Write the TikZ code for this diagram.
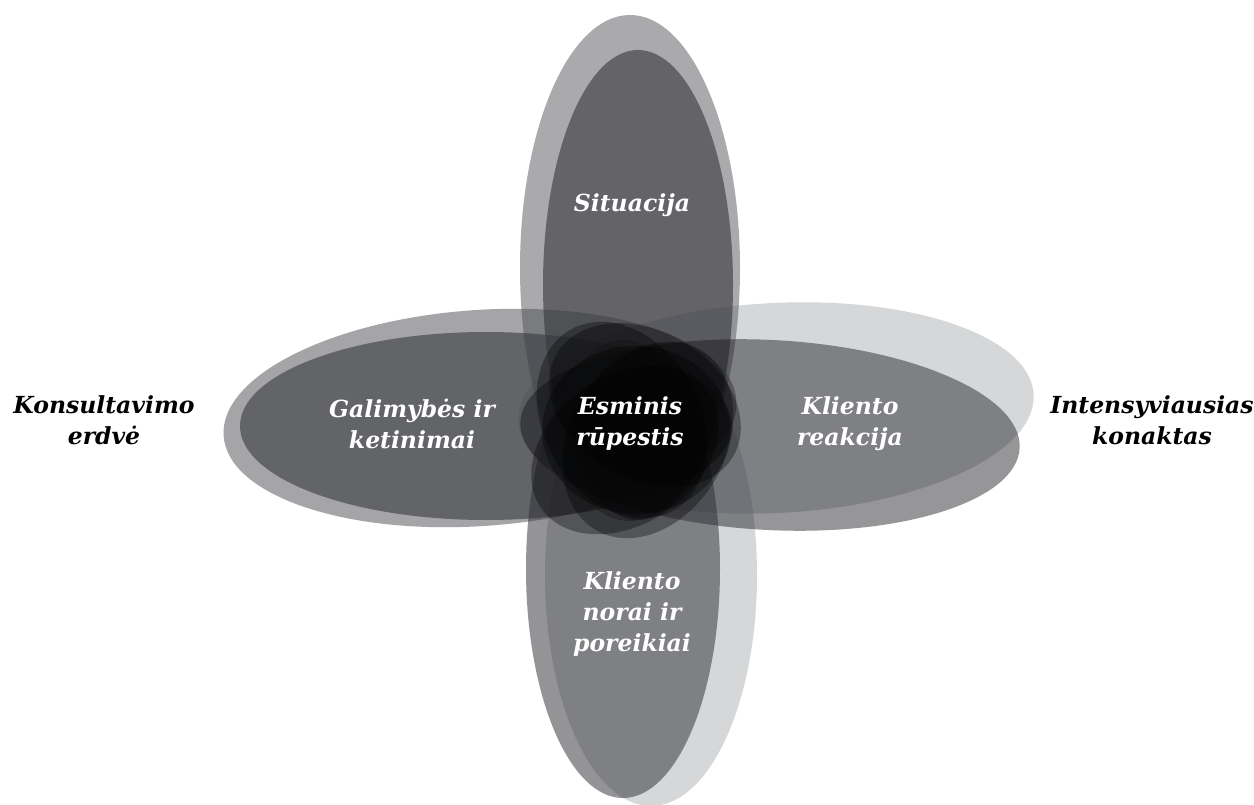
\documentclass[tikz,border=0pt]{standalone}
\usepackage{fontspec}
\setmainfont{DejaVu Serif}
\begin{document}
\begin{tikzpicture}[x=1pt,y=-1pt,
  lbl/.style={font=\fontsize{23.5}{31}\selectfont\bfseries\itshape, align=center, inner sep=0pt},
  inlbl/.style={lbl, text=white},
  outlbl/.style={lbl, text=black},
  core/.style={black, fill opacity=0.34}]
\definecolor{cT1}{RGB}{86,87,92}
\definecolor{cT2}{RGB}{52,53,58}
\definecolor{cL1}{RGB}{76,77,82}
\definecolor{cL2}{RGB}{56,57,62}
\definecolor{cR1}{RGB}{150,156,160}
\definecolor{cR2}{RGB}{18,18,24}
\definecolor{cB1}{RGB}{46,46,52}
\definecolor{cB2}{RGB}{150,156,160}
\useasboundingbox (0,0) rectangle (1254,805);
\fill[white] (0,0) rectangle (1254,805);

% pale back layers of the four petals
\fill[cR1, fill opacity=0.4, rotate around={3:(776,408)}] (776,408) ellipse [x radius=258, y radius=105];
\fill[cB2, fill opacity=0.4] (651,575) ellipse [x radius=106, y radius=231];
\fill[cT1, fill opacity=0.5] (630,268) ellipse [x radius=110, y radius=253];
\fill[cL1, fill opacity=0.5, rotate around={4:(480,418)}] (480,418) ellipse [x radius=257, y radius=108];

% darker front layers
\fill[cT2, fill opacity=0.6] (638,285) ellipse [x radius=95, y radius=235];
\fill[cL2, fill opacity=0.6] (486,426) ellipse [x radius=246, y radius=94];
\fill[cR2, fill opacity=0.44, rotate around={-3:(770,435)}] (770,435) ellipse [x radius=250, y radius=95];
\fill[cB1, fill opacity=0.51] (623,569) ellipse [x radius=97, y radius=229];

% dark core where the petals meet
\fill[core, rotate around={-30:(645,405)}] (645,405) ellipse [x radius=102, y radius=74];
\fill[core, rotate around={35:(625,450)}] (625,450) ellipse [x radius=102, y radius=74];
\fill[core, rotate around={60:(648,440)}] (648,440) ellipse [x radius=104, y radius=78];
\fill[core, rotate around={-60:(622,420)}] (622,420) ellipse [x radius=104, y radius=78];
\fill[core] (636,430) ellipse [x radius=94, y radius=84];

% labels
\node[inlbl] (sit) at (632,205) {Situacija};
\node[inlbl] (esm) at (630,424) {Esminis\\rūpestis};
\node[inlbl] (gal) at (412,424) {Galimybės ir\\ketinimai};
\node[inlbl] (rea) at (850,424) {Kliento\\reakcija};
\node[inlbl] (nor) at (632,614) {Kliento\\norai ir\\poreikiai};
\node[outlbl] (kons) at (104,420) {Konsultavimo\\erdvė};
\node[outlbl] (int) at (1152,420) {Intensyviausias\\konaktas};
\end{tikzpicture}
\end{document}
